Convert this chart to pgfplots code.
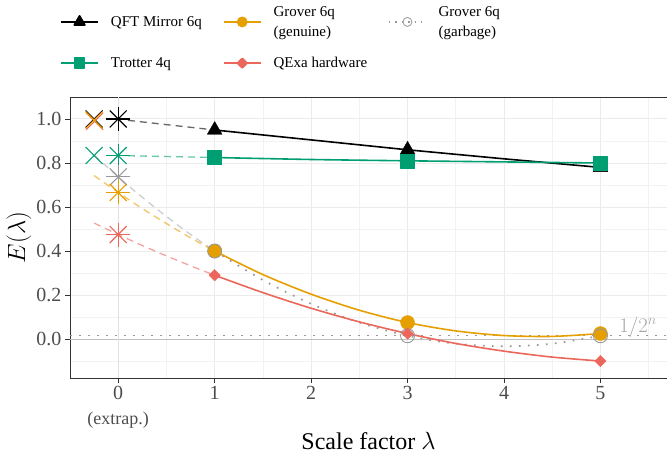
\documentclass[border=0pt]{standalone}
\usepackage{pgfplots}
\pgfplotsset{compat=1.18}
\usepackage{fontspec}
\setmainfont{Liberation Serif}
\usetikzlibrary{calc}
\definecolor{cGreen}{HTML}{009E73}
\definecolor{cOrange}{HTML}{E69F00}
\definecolor{cRed}{HTML}{EC675B}
\definecolor{cGray}{HTML}{999999}
\definecolor{cAxis}{HTML}{333333}
\definecolor{cTick}{HTML}{4D4D4D}
\tikzset{dashext/.style={line width=1.3pt, dash pattern=on 7pt off 5pt, opacity=0.6}}
\begin{document}
\begin{tikzpicture}
\begin{axis}[
  scale only axis, width=597pt, height=281pt,
  xmin=-0.5, xmax=5.69, ymin=-0.177, ymax=1.1,
  axis x line*=box, axis y line*=left,
  x axis line style={-}, y axis line style={-},
  axis line style={draw=cAxis, line width=0.9pt},
  xtick={0,1,2,3,4,5},
  xticklabels={{0\\[3pt]{\fontsize{18}{18}\selectfont(extrap.)}},1,2,3,4,5},
  xticklabel style={align=center, text=cTick, font=\fontsize{20}{22}\selectfont},
  minor xtick={-0.5,0.5,1.5,2.5,3.5,4.5,5.5},
  ytick={0,0.2,0.4,0.6,0.8,1.0},
  minor ytick={-0.1,0.1,0.3,0.5,0.7,0.9},
  yticklabel style={text=cTick, font=\fontsize{20}{22}\selectfont,
    /pgf/number format/.cd, fixed, fixed zerofill, precision=1, assume math mode=true},
  grid=both,
  major grid style={color=black!8, line width=1pt},
  minor grid style={color=black!5, line width=0.6pt},
  tick align=outside, xtick pos=left, ytick pos=left,
  major tick length=5pt, minor tick length=0pt,
  tick style={cAxis, line width=0.9pt},
  xlabel={Scale factor $\lambda$},
  xlabel style={at={(axis description cs:0.5,0)}, anchor=base, yshift=-72pt, font=\fontsize{24}{24}\selectfont},
  ylabel={$E(\lambda)$},
  ylabel style={at={(axis description cs:-0.0854,0.5)}, anchor=center, font=\fontsize{24}{24}\selectfont},
  legend columns=3,
  legend cell align=left,
  legend style={draw=none, fill=none, at={(axis description cs:-0.0218,1.338)}, anchor=north west,
    font=\fontsize{15}{20}\selectfont, nodes={align=left}, row sep=15.5pt,
    /tikz/every even column/.append style={column sep=19pt},
    /tikz/every odd column/.append style={column sep=10pt}},
  legend image code/.code={\draw[mark repeat=2,mark phase=2,#1] plot coordinates {(0pt,0pt) (18.5pt,0pt) (37pt,0pt)};},
  every axis plot/.append style={line join=round},
]
\coordinate (bl) at (rel axis cs:0,0);
\coordinate (tr) at (rel axis cs:1,1);

% legend entries
\addlegendimage{black, line width=1.8pt, mark=triangle*, mark size=6pt, mark options={solid}}
\addlegendentry{QFT Mirror 6q}
\addlegendimage{cOrange, line width=1.8pt, mark=*, mark size=4.5pt, mark options={solid}}
\addlegendentry{Grover 6q\\(genuine)}
\addlegendimage{cGray, line width=1.3pt, dash pattern=on 1.4pt off 5pt, mark=o, mark size=4.5pt, mark options={solid, line width=0.8pt}}
\addlegendentry{Grover 6q\\(garbage)}
\addlegendimage{cGreen, line width=1.8pt, mark=square*, mark size=5pt, mark options={solid}}
\addlegendentry{Trotter 4q}
\addlegendimage{cRed, line width=1.8pt, mark=square*, mark size=3.3pt, mark options={solid, rotate=45}}
\addlegendentry{QExa hardware}

% reference lines
\addplot[forget plot, black!25, line width=0.7pt] coordinates {(-0.5,0) (5.69,0)};
\addplot[forget plot, black!12, line width=1pt] coordinates {(0,-0.177) (0,1.1)};
\addplot[forget plot, cGray, line width=1.7pt, dash pattern=on 1.7pt off 7.3pt] coordinates {(-0.5,0.015625) (5.69,0.015625)};
\node[anchor=base west, text=black!35, font=\fontsize{21}{21}\selectfont] at (axis cs:5.16,0.03) {$1/2^n$};

% dashed extrapolations
\addplot[forget plot, black, dashext] coordinates {(0.1,0.994) (1,0.95)};
\addplot[forget plot, cGreen, dashext] coordinates {(0.1,0.833) (1,0.825)};
\addplot[forget plot, cGray!80, dashext, smooth] coordinates {(-0.25,0.836) (0,0.737) (0.25,0.644) (0.5,0.557) (0.75,0.475) (1,0.400)};
\addplot[forget plot, cOrange, dashext, smooth] coordinates {(-0.25,0.743) (0,0.666) (0.25,0.593) (0.5,0.525) (0.75,0.460) (1,0.400)};
\addplot[forget plot, cRed, dashext, smooth] coordinates {(-0.25,0.527) (0,0.475) (0.25,0.425) (0.5,0.378) (0.75,0.333) (1,0.290)};

% solid fits
\addplot[forget plot, black, line width=1.6pt] coordinates {(1,0.95) (2,0.905) (3,0.86) (4,0.819) (5,0.78)};
\addplot[forget plot, cGreen, line width=1.6pt, smooth] coordinates {(1,0.825) (2,0.816) (3,0.81) (4,0.805) (5,0.80)};
\addplot[forget plot, cGray, line width=1.7pt, dash pattern=on 1.7pt off 7.3pt, smooth] coordinates {(1,0.400) (1.5,0.268) (2,0.160) (2.5,0.075) (3,0.015) (3.5,-0.021) (4,-0.033) (4.5,-0.021) (5,0.015)};
\addplot[forget plot, cOrange, line width=1.6pt, smooth] coordinates {(1,0.400) (1.5,0.293) (2,0.204) (2.5,0.131) (3,0.075) (3.5,0.037) (4,0.016) (4.5,0.012) (5,0.025)};
\addplot[forget plot, cRed, line width=1.6pt, smooth] coordinates {(1,0.290) (1.5,0.211) (2,0.140) (2.5,0.078) (3,0.025) (3.5,-0.020) (4,-0.055) (4.5,-0.082) (5,-0.100)};

% markers at measured scale factors
\addplot[forget plot, only marks, black, mark=triangle*, mark size=8.5pt] coordinates {(1,0.95) (3,0.86) (5,0.78)};
\addplot[forget plot, only marks, cGreen, mark=square*, mark size=7pt] coordinates {(1,0.825) (3,0.81) (5,0.80)};
\addplot[forget plot, only marks, cOrange, mark=*, mark size=7pt, mark options={draw=cOrange}] coordinates {(1,0.400) (3,0.075) (5,0.025)};
\addplot[forget plot, only marks, cGray, mark=o, mark size=7pt, mark options={line width=0.9pt}] coordinates {(1,0.400) (3,0.015) (5,0.015)};
\addplot[forget plot, only marks, cRed, mark=square*, mark size=4pt, mark options={rotate=45}] coordinates {(1,0.290) (3,0.025) (5,-0.100)};

% extrapolated values (asterisks at lambda=0)
\addplot[forget plot, only marks, black, mark=+, mark size=12pt, mark options={line width=1.1pt}] coordinates {(0,1.0)};
\addplot[forget plot, only marks, black, mark=x, mark size=12pt, mark options={line width=1.1pt}] coordinates {(0,1.0)};
\addplot[forget plot, only marks, cGreen, mark=+, mark size=12pt, mark options={line width=1.1pt}] coordinates {(0,0.834)};
\addplot[forget plot, only marks, cGreen, mark=x, mark size=12pt, mark options={line width=1.1pt}] coordinates {(0,0.834)};
\addplot[forget plot, only marks, cGray, mark=+, mark size=12pt, mark options={line width=1.1pt}] coordinates {(0,0.737)};
\addplot[forget plot, only marks, cGray, mark=x, mark size=12pt, mark options={line width=1.1pt}] coordinates {(0,0.737)};
\addplot[forget plot, only marks, cOrange, mark=+, mark size=12pt, mark options={line width=1.1pt}] coordinates {(0,0.666)};
\addplot[forget plot, only marks, cOrange, mark=x, mark size=12pt, mark options={line width=1.1pt}] coordinates {(0,0.666)};
\addplot[forget plot, only marks, cRed, mark=+, mark size=12pt, mark options={line width=1.1pt}] coordinates {(0,0.475)};
\addplot[forget plot, only marks, cRed, mark=x, mark size=12pt, mark options={line width=1.1pt}] coordinates {(0,0.475)};

% ideal values (crosses)
\addplot[forget plot, only marks, black, mark=x, mark size=12pt, mark options={line width=1.1pt}] coordinates {(-0.25,1.0)};
\addplot[forget plot, only marks, cRed, mark=x, mark size=12pt, mark options={line width=1.1pt}] coordinates {(-0.245,0.99)};
\addplot[forget plot, only marks, cOrange, mark=x, mark size=12pt, mark options={line width=1.1pt}] coordinates {(-0.25,0.995)};
\addplot[forget plot, only marks, cGreen, mark=x, mark size=12pt, mark options={line width=1.1pt}] coordinates {(-0.25,0.834)};
\end{axis}
\pgfresetboundingbox
\path[use as bounding box] ($(bl)+(-70pt,-79pt)$) rectangle ($(tr)+(0pt,97pt)$);
\end{tikzpicture}
\end{document}
